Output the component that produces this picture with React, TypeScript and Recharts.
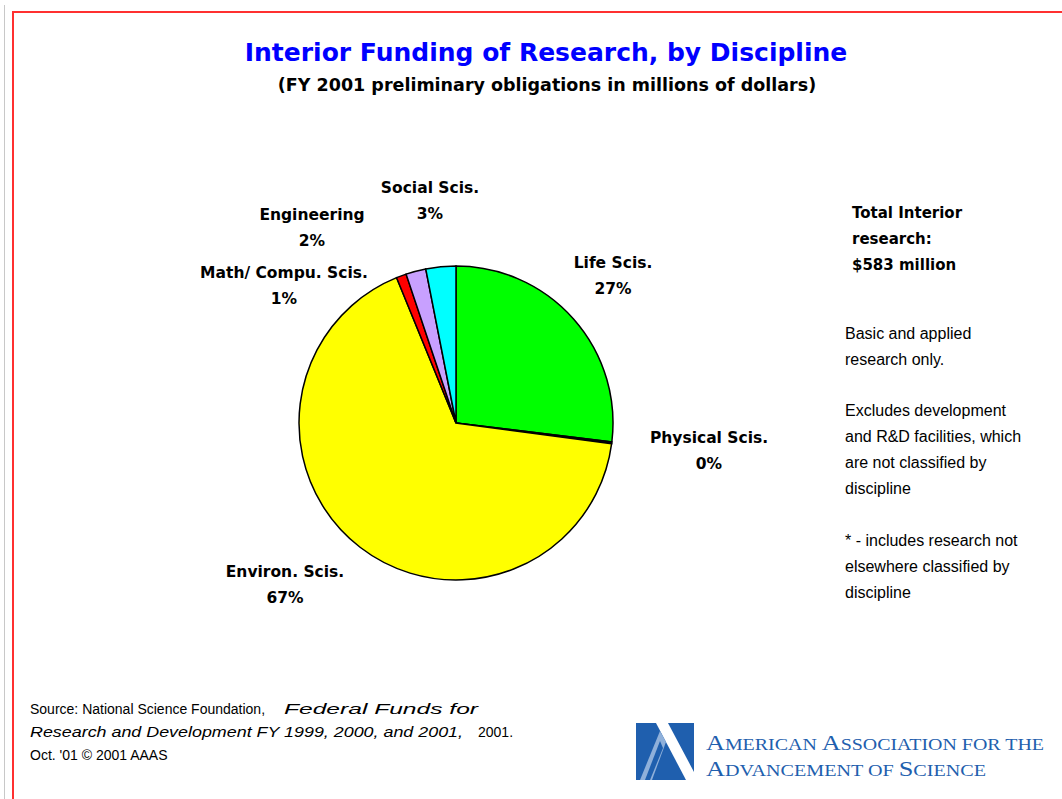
import React from "react";
import { PieChart, Pie, Cell } from "recharts";

const disciplines = ["Life Scis.", "Physical Scis.", "Environ. Scis.", "Math/ Compu. Scis.", "Engineering", "Social Scis."];
const funding = [157, 1, 389, 6, 12, 18];
const sliceColors = ["#00ff00", "#000080", "#ffff00", "#ff0000", "#c8a0ff", "#00ffff"];

const notesBold = ["Total Interior", "research:", "$583 million"];
const notesA = ["Basic and applied", "research only."];
const notesB = ["Excludes development", "and R&D facilities, which", "are not classified by", "discipline"];
const notesC = ["* - includes research not", "elsewhere classified by", "discipline"];

const data = disciplines.map((name, i) => ({ name, value: funding[i] }));

// label layout (offset of first baseline from pie center)
const labelOffsets: Record<string, [number, number]> = {
  "Life Scis.": [157, -155],
  "Physical Scis.": [253, 20],
  "Environ. Scis.": [-171, 154],
  "Math/ Compu. Scis.": [-172, -145],
  "Engineering": [-144, -203],
  "Social Scis.": [-26, -230],
};

const LABEL_FONT = "'DejaVu Sans', Verdana, sans-serif";
const REG_FONT = "'Liberation Sans', Arial, sans-serif";

const renderLabel = (props: any) => {
  const { cx, cy, name, percent } = props;
  const off = labelOffsets[name] || [0, 0];
  const x = cx + off[0];
  const y = cy + off[1];
  return (
    <g key={name}>
      <text x={x} y={y} textAnchor="middle" fontFamily={LABEL_FONT} fontWeight="bold" fontSize={15.5} fill="#000">
        {name}
      </text>
      <text x={x} y={y + 26} textAnchor="middle" fontFamily={LABEL_FONT} fontWeight="bold" fontSize={15.5} fill="#000">
        {Math.round(percent * 100) + "%"}
      </text>
    </g>
  );
};

export default function App() {
  const blue = "#1f5fae";
  return (
    <div style={{ position: "absolute", left: 0, top: 0, width: 1062, height: 799, background: "#fff", overflow: "hidden" }}>
      <div style={{ position: "absolute", left: 4, top: 5, width: 1, height: 800, background: "#c8c8c8" }} />
      <div style={{ position: "absolute", left: 12, top: 11, width: 1100, height: 900, border: "2px solid #ff3030", boxSizing: "border-box" }} />
      <div style={{ position: "absolute", left: 0, top: 0 }}>
        <PieChart width={1062} height={799} margin={{ top: 0, right: 0, bottom: 0, left: 0 }}>
          <Pie
            data={data}
            dataKey="value"
            nameKey="name"
            cx={456}
            cy={423}
            outerRadius={157}
            startAngle={90}
            endAngle={-270}
            stroke="#000"
            strokeWidth={1.5}
            label={renderLabel}
            labelLine={false}
            isAnimationActive={false}
          >
            {data.map((d, i) => (
              <Cell key={d.name} fill={sliceColors[i]} />
            ))}
          </Pie>
        </PieChart>
      </div>
      <svg width={1062} height={799} style={{ position: "absolute", left: 0, top: 0, pointerEvents: "none" }}>
        <text x={546} y={61} textAnchor="middle" fontFamily={LABEL_FONT} fontWeight="bold" fontSize={25} fill="#0000ff">
          Interior Funding of Research, by Discipline
        </text>
        <text x={547} y={91} textAnchor="middle" fontFamily={LABEL_FONT} fontWeight="bold" fontSize={17.5} fill="#000">
          (FY 2001 preliminary obligations in millions of dollars)
        </text>
        {notesBold.map((t, i) => (
          <text key={t} x={852} y={218 + i * 26} fontFamily={LABEL_FONT} fontWeight="bold" fontSize={15} fill="#000">
            {t}
          </text>
        ))}
        {notesA.map((t, i) => (
          <text key={t} x={845} y={339 + i * 26} fontFamily={REG_FONT} fontSize={16} fill="#000">
            {t}
          </text>
        ))}
        {notesB.map((t, i) => (
          <text key={t} x={845} y={416 + i * 26} fontFamily={REG_FONT} fontSize={16} fill="#000">
            {t}
          </text>
        ))}
        {notesC.map((t, i) => (
          <text key={t + i} x={845} y={546 + i * 26} fontFamily={REG_FONT} fontSize={16} fill="#000">
            {t}
          </text>
        ))}
        <g fontFamily={REG_FONT} fontSize={14} fill="#000">
          <text x={30} y={714}>Source: National Science Foundation,</text>
          <text x={284} y={714} fontStyle="italic" textLength={194} lengthAdjust="spacingAndGlyphs">Federal Funds for</text>
          <text x={30} y={737} fontStyle="italic" textLength={433} lengthAdjust="spacingAndGlyphs">
            Research and Development  FY 1999, 2000, and 2001,
          </text>
          <text x={478} y={737}>2001.</text>
          <text x={30} y={760}>Oct. '01 © 2001 AAAS</text>
        </g>
        {/* AAAS logo */}
        <g>
          <rect x={636} y={723} width={58} height={57} fill={blue} />
          <polygon points="656,723 668,723 694,772 694,780 686,780" fill="#fff" />
          <polygon points="640,780 660,731 666,742 652,780" fill="#8fb0da" />
          <polygon points="645,780 660,741 663,748 650,780" fill={blue} />
          <text
            x={706}
            y={750}
            fontFamily="'Liberation Serif', 'DejaVu Serif', serif"
            fill={blue}
            textLength={338}
            lengthAdjust="spacingAndGlyphs"
          >
            <tspan fontSize={21}>A</tspan><tspan fontSize={16}>MERICAN </tspan>
            <tspan fontSize={21}>A</tspan><tspan fontSize={16}>SSOCIATION FOR THE</tspan>
          </text>
          <text
            x={706}
            y={776}
            fontFamily="'Liberation Serif', 'DejaVu Serif', serif"
            fill={blue}
            textLength={280}
            lengthAdjust="spacingAndGlyphs"
          >
            <tspan fontSize={21}>A</tspan><tspan fontSize={16}>DVANCEMENT OF </tspan>
            <tspan fontSize={21}>S</tspan><tspan fontSize={16}>CIENCE</tspan>
          </text>
        </g>
      </svg>
    </div>
  );
}
